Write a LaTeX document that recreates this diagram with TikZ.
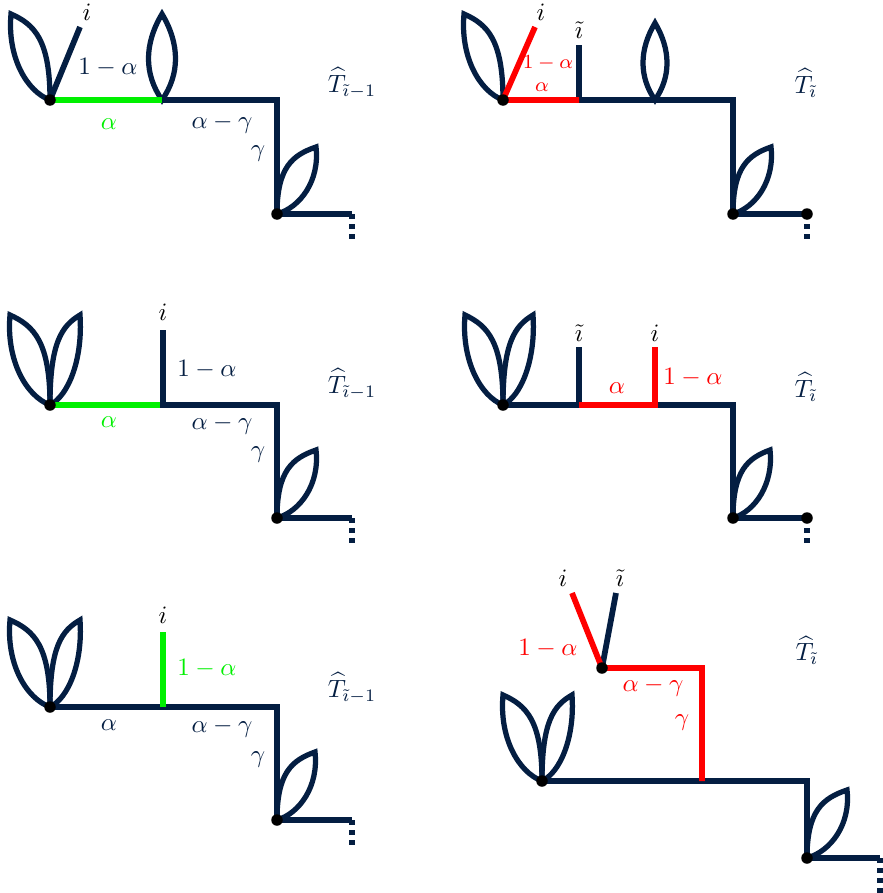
\documentclass[tikz,border=0pt]{standalone}
\definecolor{navy}{RGB}{4,30,66}
\definecolor{brightgreen}{RGB}{0,240,0}
\definecolor{pure red}{RGB}{255,0,0}
\newcommand\leafat[4]{%
 \pgfmathsetmacro\lfH{(#2)-(#4)}%
 \pgfmathsetmacro\lfD{(#3)-(#1)}%
 \draw[leafline] (#1,#2) .. controls (#1,{#2-0.7*\lfH}) and ({#1+0.4*\lfD},{#4+0.12*\lfH}) .. (#3,#4)
   .. controls ({#3+0.1*\lfD},{#4+0.5*\lfH}) and ({#1+0.6*\lfD},{#2-0.1*\lfH}) .. cycle;}
\newcommand\lensat[4]{%
 \pgfmathsetmacro\lfH{(#2)-(#3)}%
 \draw[leafline] (#1,#2) .. controls ({#1-#4},{#2-0.3*\lfH}) and ({#1-#4},{#3+0.35*\lfH}) .. (#1,#3)
   .. controls ({#1+#4},{#3+0.35*\lfH}) and ({#1+#4},{#2-0.3*\lfH}) .. cycle;}
\tikzset{
 edge/.style={line width=2.3pt, draw=navy},
 gedge/.style={line width=2.3pt, draw=brightgreen},
 redge/.style={line width=2.3pt, draw=pure red},
 leafline/.style={line width=2.1pt, draw=navy},
 tail/.style={line width=2.3pt, draw=navy, dash pattern=on 2pt off 2pt},
 dotn/.style={circle, fill=black, inner sep=0pt, minimum size=4.6pt},
 lab/.style={text=navy, inner sep=0pt},
 blab/.style={text=black, inner sep=0pt},
 rlab/.style={text=pure red, inner sep=0pt},
 glab/.style={text=brightgreen, inner sep=0pt},
}
\begin{document}
\begin{tikzpicture}[x=0.4pt,y=-0.4pt]
\useasboundingbox (0,0) rectangle (882,893);
% ---------------- Panel 1 (top left)
\coordinate (p1r) at (50,100);
\coordinate (p1m) at (162,100);
\coordinate (p1c) at (277,100);
\coordinate (p1d) at (277,214);
\coordinate (p1e) at (352,214);
\coordinate (p1f) at (352,243);
\coordinate (p1i) at (80,27);
\leafat{50}{100}{11}{14}
\lensat{162}{100}{14}{18}
\leafat{277}{214}{316}{147}
\draw[gedge] (p1r) -- (p1m);
\draw[edge] (p1m) -- (p1c) -- (p1d) -- (p1e);
\draw[tail] (p1e) -- (p1f);
\draw[edge] (p1r) -- (p1i);
\node[dotn] (d1a) at (p1r) {};
\node[dotn] (d1b) at (p1d) {};
\node[blab] (l1i) at (87,12) {$i$};
\node[lab] (l1a) at (108,67) {$1-\alpha$};
\node[glab] (l1b) at (109,124) {$\alpha$};
\node[lab] (l1c) at (222,124) {$\alpha-\gamma$};
\node[lab] (l1d) at (258,154) {$\gamma$};
\node[lab] (l1t) at (352,83) {$\widehat{T}_{\tilde\imath-1}$};
% ---------------- Panel 2 (top right)
\coordinate (p2r) at (503,100);
\coordinate (p2a) at (579,100);
\coordinate (p2c) at (733,100);
\coordinate (p2d) at (733,214);
\coordinate (p2e) at (807,214);
\coordinate (p2f) at (807,243);
\coordinate (p2i) at (535,27);
\coordinate (p2t) at (579,45);
\leafat{503}{100}{464}{14}
\lensat{655}{100}{23}{16}
\leafat{733}{214}{771}{147}
\draw[edge] (p2a) -- (p2c) -- (p2d) -- (p2e);
\draw[edge] (p2a) -- (p2t);
\draw[tail] (p2e) -- (p2f);
\draw[redge] (p2i) -- (p2r) -- (p2a);
\node[dotn] (d2a) at (p2r) {};
\node[dotn] (d2b) at (p2d) {};
\node[dotn] (d2c) at (p2e) {};
\node[blab] (l2i) at (541,12) {$i$};
\node[blab] (l2j) at (579,30) {$\tilde\imath$};
\node[rlab,font=\footnotesize] (l2a) at (548,63) {$1-\alpha$};
\node[rlab,font=\footnotesize] (l2b) at (542,87) {$\alpha$};
\node[lab] (l2t) at (806,83) {$\widehat{T}_{\tilde\imath}$};
% ---------------- Panel 3 (middle left)
\coordinate (p3r) at (50,405);
\coordinate (p3a) at (163,405);
\coordinate (p3c) at (277,405);
\coordinate (p3d) at (277,518);
\coordinate (p3e) at (352,518);
\coordinate (p3f) at (352,547);
\coordinate (p3t) at (163,330);
\leafat{50}{405}{10}{315}
\leafat{50}{405}{80}{315}
\leafat{277}{518}{316}{450}
\draw[gedge] (p3r) -- (p3a);
\draw[edge] (p3t) -- (p3a) -- (p3c) -- (p3d) -- (p3e);
\draw[tail] (p3e) -- (p3f);
\node[dotn] (d3a) at (p3r) {};
\node[dotn] (d3b) at (p3d) {};
\node[blab] (l3i) at (163,312) {$i$};
\node[lab] (l3a) at (207,369) {$1-\alpha$};
\node[glab] (l3b) at (109,422) {$\alpha$};
\node[lab] (l3c) at (222,425) {$\alpha-\gamma$};
\node[lab] (l3d) at (258,455) {$\gamma$};
\node[lab] (l3t) at (352,384) {$\widehat{T}_{\tilde\imath-1}$};
% ---------------- Panel 4 (middle right)
\coordinate (p4r) at (503,405);
\coordinate (p4a) at (579,405);
\coordinate (p4b) at (655,405);
\coordinate (p4c) at (733,405);
\coordinate (p4d) at (733,518);
\coordinate (p4e) at (807,518);
\coordinate (p4f) at (807,547);
\coordinate (p4t) at (579,347);
\coordinate (p4s) at (655,347);
\leafat{503}{405}{465}{315}
\leafat{503}{405}{533}{315}
\leafat{733}{518}{770}{450}
\draw[edge] (p4r) -- (p4a) -- (p4t);
\draw[edge] (p4b) -- (p4c) -- (p4d) -- (p4e);
\draw[tail] (p4e) -- (p4f);
\draw[redge] (p4a) -- (p4b) -- (p4s);
\node[dotn] (d4a) at (p4r) {};
\node[dotn] (d4b) at (p4d) {};
\node[dotn] (d4c) at (p4e) {};
\node[blab] (l4j) at (579,333) {$\tilde\imath$};
\node[blab] (l4i) at (655,333) {$i$};
\node[rlab] (l4a) at (617,388) {$\alpha$};
\node[rlab] (l4b) at (693,377) {$1-\alpha$};
\node[lab] (l4t) at (806,387) {$\widehat{T}_{\tilde\imath}$};
% ---------------- Panel 5 (bottom left)
\coordinate (p5r) at (50,707);
\coordinate (p5a) at (163,707);
\coordinate (p5c) at (277,707);
\coordinate (p5d) at (277,820);
\coordinate (p5e) at (352,820);
\coordinate (p5f) at (352,848);
\coordinate (p5t) at (163,632);
\leafat{50}{707}{10}{620}
\leafat{50}{707}{80}{620}
\leafat{277}{820}{315}{752}
\draw[edge] (p5r) -- (p5a) -- (p5c) -- (p5d) -- (p5e);
\draw[tail] (p5e) -- (p5f);
\draw[gedge] (p5a) -- (p5t);
\node[dotn] (d5a) at (p5r) {};
\node[dotn] (d5b) at (p5d) {};
\node[blab] (l5i) at (163,615) {$i$};
\node[glab] (l5a) at (207,668) {$1-\alpha$};
\node[lab] (l5b) at (109,725) {$\alpha$};
\node[lab] (l5c) at (222,728) {$\alpha-\gamma$};
\node[lab] (l5d) at (258,760) {$\gamma$};
\node[lab] (l5t) at (352,688) {$\widehat{T}_{\tilde\imath-1}$};
% ---------------- Panel 6 (bottom right)
\coordinate (p6u) at (602,668);
\coordinate (p6v) at (702,668);
\coordinate (p6w) at (702,781);
\coordinate (p6r) at (542,781);
\coordinate (p6c) at (807,781);
\coordinate (p6d) at (807,858);
\coordinate (p6e) at (880,858);
\coordinate (p6f) at (880,893);
\coordinate (p6i) at (572,593);
\coordinate (p6t) at (616,593);
\leafat{542}{781}{503}{695}
\leafat{542}{781}{572}{695}
\leafat{807}{858}{847}{790}
\draw[edge] (p6r) -- (p6c) -- (p6d) -- (p6e);
\draw[tail] (p6e) -- (p6f);
\draw[edge] (p6u) -- (p6t);
\draw[redge] (p6i) -- (p6u) -- (p6v) -- (p6w);
\node[dotn] (d6a) at (p6u) {};
\node[dotn] (d6b) at (p6r) {};
\node[dotn] (d6c) at (p6d) {};
\node[blab] (l6i) at (563,578) {$i$};
\node[blab] (l6j) at (620,578) {$\tilde\imath$};
\node[rlab] (l6a) at (548,648) {$1-\alpha$};
\node[rlab] (l6b) at (653,687) {$\alpha-\gamma$};
\node[rlab] (l6c) at (682,723) {$\gamma$};
\node[lab] (l6t) at (807,650) {$\widehat{T}_{\tilde\imath}$};
\end{tikzpicture}
\end{document}
